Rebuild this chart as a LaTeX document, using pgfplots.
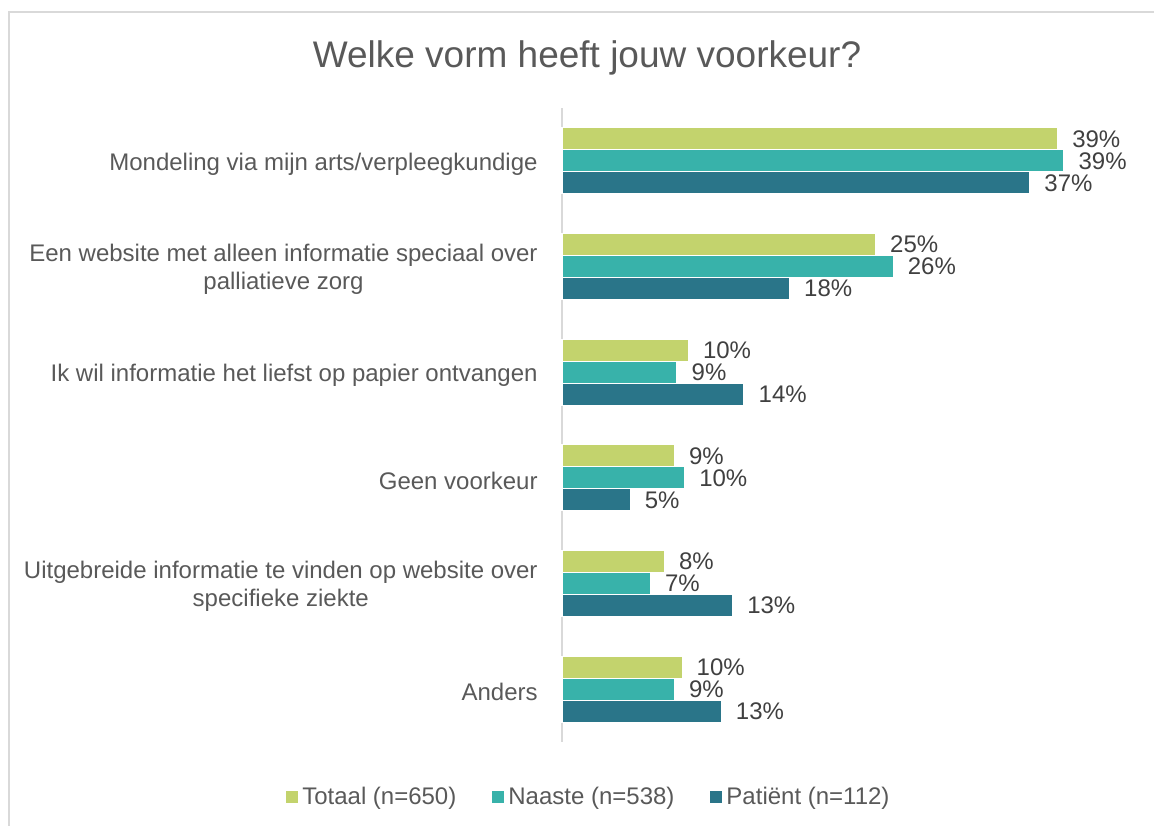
\documentclass[border=0pt]{standalone}
\usepackage{pgfplots}
\pgfplotsset{compat=1.18}
\usepackage{fontspec}
\setmainfont{Liberation Sans}
\definecolor{cTot}{RGB}{195,211,109}
\definecolor{cNaa}{RGB}{56,178,170}
\definecolor{cPat}{RGB}{42,117,137}
\definecolor{txt}{RGB}{89,89,89}
\definecolor{val}{RGB}{64,64,64}
\definecolor{frame}{RGB}{217,217,217}
\begin{document}
\begin{tikzpicture}
% page is 1154 x 825 px, 1 px = 0.5 pt
\useasboundingbox (0pt,0pt) rectangle (577pt,412.5pt);
\draw[frame, line width=1pt] (4.5pt,-20pt) |- (650pt,406.5pt);
\node[text=txt, font=\fontsize{18.5}{22}\selectfont] at (293.5pt,383.5pt) {Welke vorm heeft jouw voorkeur?};
\begin{axis}[
  at={(281pt,41.5pt)}, anchor=south west,
  width=284.5pt, height=317pt, scale only axis,
  xbar, bar width=11pt,
  xmin=0, xmax=45,
  ymin=-0.5, ymax=5.5, y dir=reverse,
  hide x axis,
  axis y line*=left,
  y axis line style={frame, line width=1pt, -},
  ytick={0,...,5}, major tick length=0pt,
  yticklabels={Mondeling via mijn arts/verpleegkundige,
    {Een website met alleen informatie speciaal over\\palliatieve zorg},
    Ik wil informatie het liefst op papier ontvangen,
    Geen voorkeur,
    {Uitgebreide informatie te vinden op website over\\specifieke ziekte},
    Anders},
  yticklabel style={align=center, text=txt, font=\fontsize{12}{14}\selectfont, inner sep=0pt, xshift=-12pt, yshift=-1.5pt},
  point meta=explicit symbolic,
  nodes near coords,
  nodes near coords style={anchor=west, text=val, font=\fontsize{12}{14}\selectfont, inner sep=0pt, xshift=7pt},
  every axis plot/.append style={draw=white, line width=0.6pt},
  legend style={at={(0.049,-0.087)}, anchor=center, draw=none, fill=none,
    legend columns=-1, font=\fontsize{12}{14}\selectfont, text=txt,
    /tikz/every even column/.append style={column sep=16pt},
    nodes={inner xsep=2pt}},
  legend image code/.code={\fill[#1, draw=none] (0pt,-3pt) rectangle (6pt,3pt);},
  clip=false,
]
\addplot[fill=cTot, bar shift=11pt] coordinates {
  (39.2,0) [39\%] (24.8,1) [25\%] (10.0,2) [10\%] (8.9,3) [9\%] (8.1,4) [8\%] (9.5,5) [10\%]};
\addplot[fill=cNaa, bar shift=0pt] coordinates {
  (39.7,0) [39\%] (26.2,1) [26\%] (9.1,2) [9\%] (9.7,3) [10\%] (7.0,4) [7\%] (8.9,5) [9\%]};
\addplot[fill=cPat, bar shift=-11pt] coordinates {
  (37.0,0) [37\%] (18.0,1) [18\%] (14.4,2) [14\%] (5.4,3) [5\%] (13.5,4) [13\%] (12.6,5) [13\%]};
\legend{Totaal (n=650), Naaste (n=538), Patiënt (n=112)}
\end{axis}
\end{tikzpicture}
\end{document}
